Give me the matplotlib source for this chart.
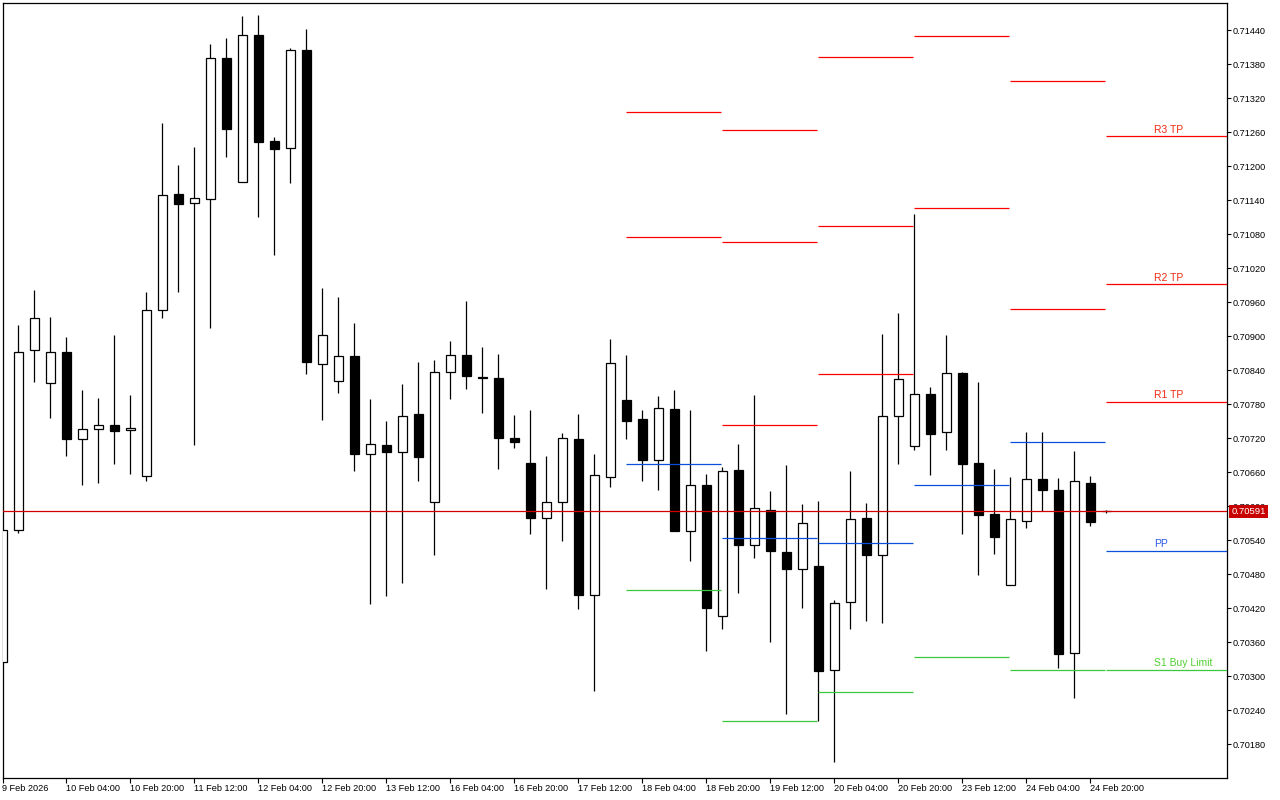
import numpy as np
import matplotlib.pyplot as plt

plt.rcParams['font.family'] = ['Liberation Sans', 'DejaVu Sans']

# H4 bars, 9 Feb 2026 12:00 -> 25 Feb 00:00
opens = [0.70326, 0.70559, 0.70875, 0.70818, 0.70872, 0.70718, 0.70736, 0.70743, 0.70734, 0.70653,
         0.70946, 0.71151, 0.71135, 0.71142, 0.71391, 0.71173, 0.71431, 0.71244, 0.71232, 0.71406,
         0.70851, 0.70821, 0.70865, 0.70692, 0.70708, 0.70696, 0.70763, 0.70608, 0.70837, 0.70867,
         0.70828, 0.70827, 0.70720, 0.70676, 0.70579, 0.70608, 0.70718, 0.70443, 0.70652, 0.70788,
         0.70754, 0.70682, 0.70772, 0.70556, 0.70637, 0.70406, 0.70664, 0.70531, 0.70593, 0.70519,
         0.70489, 0.70495, 0.70311, 0.70432, 0.70580, 0.70514, 0.70759, 0.70706, 0.70799, 0.70731,
         0.70835, 0.70676, 0.70586, 0.70462, 0.70575, 0.70649, 0.70629, 0.70341, 0.70642, 0.70592]
highs = [0.70558, 0.70920, 0.70982, 0.70934, 0.70899, 0.70805, 0.70791, 0.70902, 0.70796, 0.70978,
         0.71276, 0.71202, 0.71234, 0.71416, 0.71426, 0.71465, 0.71467, 0.71252, 0.71409, 0.71442,
         0.70985, 0.70969, 0.70923, 0.70789, 0.70750, 0.70815, 0.70854, 0.70859, 0.70892, 0.70962,
         0.70881, 0.70869, 0.70761, 0.70770, 0.70689, 0.70730, 0.70763, 0.70692, 0.70896, 0.70867,
         0.70770, 0.70795, 0.70805, 0.70770, 0.70657, 0.70669, 0.70710, 0.70796, 0.70627, 0.70673,
         0.70604, 0.70609, 0.70435, 0.70662, 0.70606, 0.70904, 0.70941, 0.71116, 0.70811, 0.70903,
         0.70837, 0.70819, 0.70666, 0.70652, 0.70731, 0.70731, 0.70650, 0.70698, 0.70653, 0.70593]
lows = [0.70326, 0.70553, 0.70819, 0.70755, 0.70688, 0.70638, 0.70642, 0.70675, 0.70657, 0.70645,
        0.70933, 0.70979, 0.70709, 0.70915, 0.71217, 0.71172, 0.71111, 0.71044, 0.71171, 0.70834,
        0.70753, 0.70800, 0.70662, 0.70427, 0.70442, 0.70464, 0.70644, 0.70515, 0.70790, 0.70807,
        0.70765, 0.70666, 0.70703, 0.70552, 0.70455, 0.70538, 0.70418, 0.70274, 0.70635, 0.70719,
        0.70645, 0.70629, 0.70556, 0.70504, 0.70344, 0.70383, 0.70447, 0.70508, 0.70361, 0.70234,
        0.70420, 0.70222, 0.70148, 0.70383, 0.70397, 0.70395, 0.70674, 0.70700, 0.70656, 0.70700,
        0.70552, 0.70478, 0.70516, 0.70462, 0.70561, 0.70592, 0.70315, 0.70261, 0.70566, 0.70589]
closes = [0.70558, 0.70872, 0.70932, 0.70872, 0.70719, 0.70736, 0.70743, 0.70733, 0.70738, 0.70946,
          0.71150, 0.71134, 0.71144, 0.71391, 0.71266, 0.71431, 0.71243, 0.71231, 0.71405, 0.70855,
          0.70903, 0.70865, 0.70692, 0.70710, 0.70696, 0.70760, 0.70687, 0.70837, 0.70867, 0.70830,
          0.70827, 0.70721, 0.70714, 0.70580, 0.70607, 0.70720, 0.70443, 0.70655, 0.70853, 0.70751,
          0.70681, 0.70774, 0.70556, 0.70637, 0.70420, 0.70663, 0.70531, 0.70597, 0.70522, 0.70490,
          0.70570, 0.70309, 0.70429, 0.70577, 0.70515, 0.70760, 0.70824, 0.70799, 0.70728, 0.70836,
          0.70675, 0.70584, 0.70546, 0.70577, 0.70649, 0.70628, 0.70340, 0.70644, 0.70573, 0.70591]

tick_bars = list(range(0, 69, 4))
tick_labels = ["9 Feb 2026", "10 Feb 04:00", "10 Feb 20:00", "11 Feb 12:00", "12 Feb 04:00",
               "12 Feb 20:00", "13 Feb 12:00", "16 Feb 04:00", "16 Feb 20:00", "17 Feb 12:00",
               "18 Feb 04:00", "18 Feb 20:00", "19 Feb 12:00", "20 Feb 04:00", "20 Feb 20:00",
               "23 Feb 12:00", "24 Feb 04:00", "24 Feb 20:00"]

# daily pivots (18 Feb .. 25 Feb), nan = off chart
day_start = [39, 45, 51, 57, 63, 69]
r3 = [np.nan, 0.71264, 0.71393, np.nan, np.nan, 0.71253]
r2 = [0.71296, 0.71066, 0.71094, 0.71430, 0.71351, 0.70992]
r1 = [0.71075, 0.70743, 0.70833, 0.71127, 0.70948, 0.70784]
pp = [0.70674, 0.70544, 0.70535, 0.70637, 0.70713, 0.70522]
s1 = [0.70452, 0.70221, 0.70272, 0.70335, 0.70311, 0.70312]
level_names = ["R3 TP", "R2 TP", "R1 TP", "PP", "S1 Buy Limit"]

bid = 0.70591

RED = '#ff0000'
BLUE = '#0a50dc'
GREEN = '#3cc83c'

fig = plt.figure(figsize=(12.8, 8), dpi=100)
ax = fig.add_axes([2.5/1280, 22/800, 1224.5/1280, 775.5/800])

x = np.arange(len(opens))
o = np.array(opens); c = np.array(closes)
up = c >= o
bottom = np.minimum(o, c)
height = np.maximum(np.abs(c - o), 0.000012)

ax.vlines(x, lows, highs, color='black', lw=0.9, zorder=2)
ax.bar(x[up], height[up], bottom=bottom[up], width=0.58, facecolor='white',
       edgecolor='black', lw=0.9, zorder=3)
ax.bar(x[~up], height[~up], bottom=bottom[~up], width=0.58, facecolor='black',
       edgecolor='black', lw=0.9, zorder=3)

x_right = 76.54
for i, s in enumerate(day_start):
    end = s + 6 - 0.06 if i < len(day_start) - 1 else x_right
    for lvl, col in ((r3, RED), (r2, RED), (r1, RED), (pp, BLUE)):
        if not np.isnan(lvl[i]):
            ax.hlines(lvl[i], s, end, color=col, lw=0.9, zorder=4)
    s1_start = s if i < len(day_start) - 2 else s
    ax.hlines(s1[i], s, end, color=GREEN, lw=0.9, zorder=4)

# labels of the current day
cur = [r3[-1], r2[-1], r1[-1], pp[-1], s1[-1]]
lab_cols = ['#f02a10', '#f02a10', '#f02a10', '#2a5ae6', '#50d030']
for name, lvl, col in zip(level_names, cur, lab_cols):
    ax.annotate(name, xy=(72, lvl), xytext=(0, 1.2), textcoords='offset points',
                ha='left', va='bottom', fontsize=7.5, color=col, zorder=6)

# bid line and price tag
ax.axhline(bid, color='#d40000', lw=0.9, zorder=5)
ax.annotate(f"{bid:.5f}", xy=(1, bid), xycoords=ax.get_yaxis_transform(),
            xytext=(3, 0), textcoords='offset points', ha='left', va='center',
            fontsize=6.8, color='white', zorder=10, annotation_clip=False,
            bbox=dict(boxstyle='square,pad=0.25', fc='#c80000', ec='none'))

ax.set_xlim(0.0125, x_right)
ax.set_ylim(0.701206, 0.714891)

yt = np.arange(0.70180, 0.71441, 0.0006)
ax.set_yticks(yt)
ax.set_yticklabels([f"{v:.5f}" for v in yt])
ax.yaxis.tick_right()
ax.tick_params(axis='y', direction='out', length=3, width=0.8, pad=1, labelsize=6.6)

ax.set_xticks(tick_bars)
ax.set_xticklabels(tick_labels)
ax.tick_params(axis='x', direction='out', length=3.5, width=0.8, pad=1, labelsize=6.6)
for t in ax.get_xticklabels():
    t.set_ha('left')

for sp in ax.spines.values():
    sp.set_linewidth(0.9)
    sp.set_color('black')

fig.savefig('out.png', dpi=100, facecolor='white')
